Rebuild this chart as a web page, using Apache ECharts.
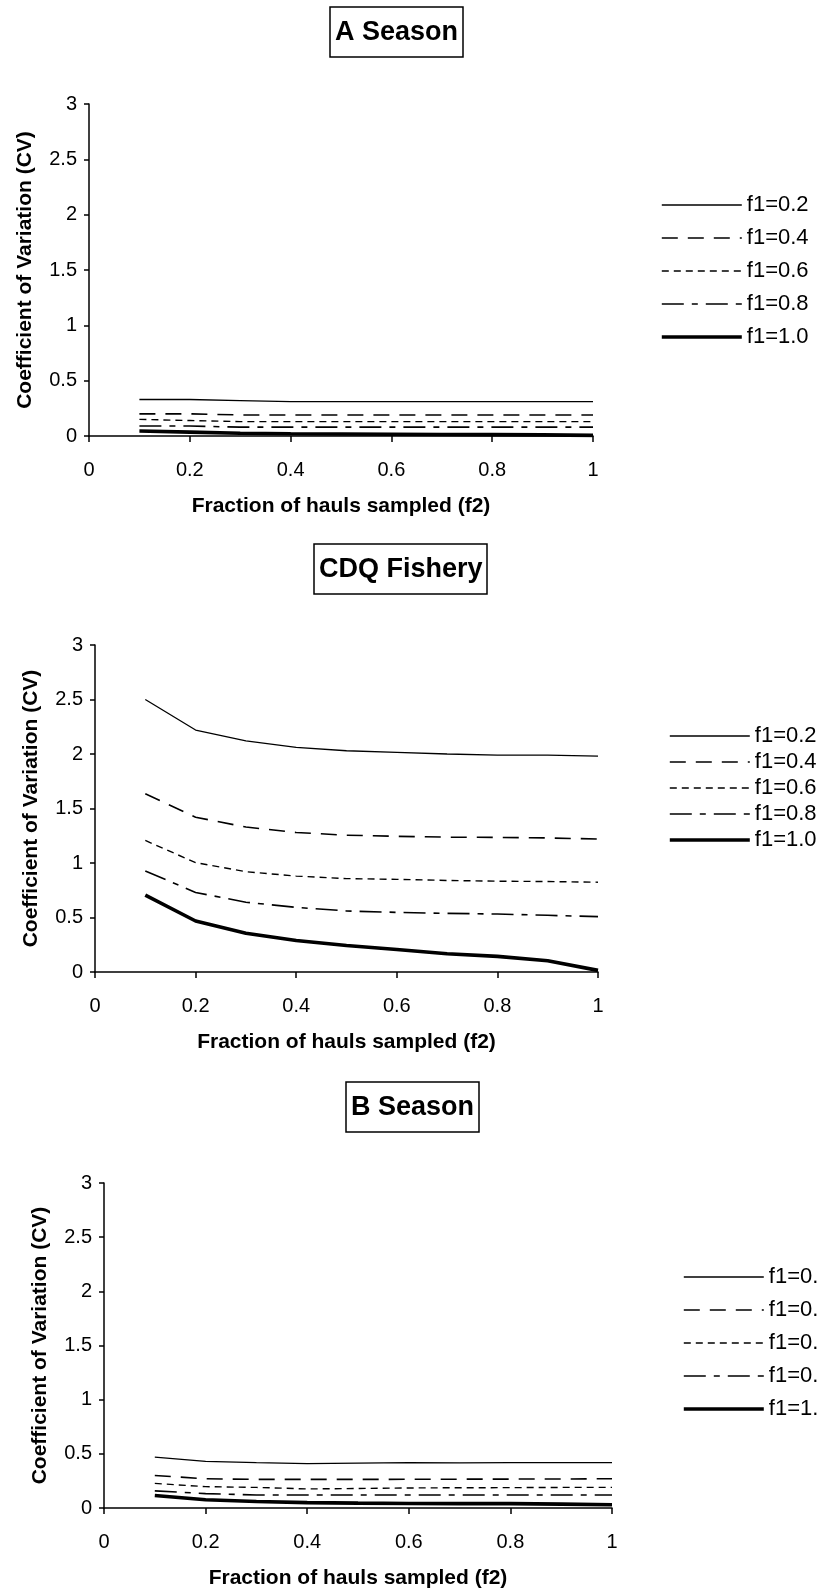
<!DOCTYPE html>
<html>
<head>
<meta charset="utf-8">
<script src="https://cdn.jsdelivr.net/npm/echarts@6/dist/echarts.min.js"></script>
<style>
  html, body { margin: 0; padding: 0; background: #fff; }
  #chart { width: 817px; height: 1590px; }
</style>
</head>
<body>
<div id="chart"></div>
<script>
// ---- data ----
const f2 = [0.1, 0.2, 0.3, 0.4, 0.5, 0.6, 0.7, 0.8, 0.9, 1.0];
const seriesNames = ['f1=0.2', 'f1=0.4', 'f1=0.6', 'f1=0.8', 'f1=1.0'];
const panelTitles = ['A Season', 'CDQ Fishery', 'B Season'];
const xAxisTitle = 'Fraction of hauls sampled (f2)';
const yAxisTitle = 'Coefficient of Variation (CV)';

// A Season
const aF02 = [0.33, 0.33, 0.32, 0.31, 0.31, 0.31, 0.31, 0.31, 0.31, 0.31];
const aF04 = [0.20, 0.20, 0.19, 0.19, 0.19, 0.19, 0.19, 0.19, 0.19, 0.19];
const aF06 = [0.15, 0.14, 0.13, 0.13, 0.13, 0.13, 0.13, 0.13, 0.13, 0.13];
const aF08 = [0.09, 0.09, 0.08, 0.08, 0.08, 0.08, 0.08, 0.08, 0.08, 0.08];
const aF10 = [0.045, 0.035, 0.025, 0.02, 0.018, 0.016, 0.014, 0.012, 0.01, 0.006];

// CDQ Fishery
const cF02 = [2.50, 2.22, 2.12, 2.06, 2.03, 2.015, 2.00, 1.99, 1.99, 1.98];
const cF04 = [1.635, 1.42, 1.33, 1.28, 1.255, 1.245, 1.237, 1.235, 1.23, 1.22];
const cF06 = [1.207, 1.003, 0.92, 0.88, 0.857, 0.85, 0.84, 0.833, 0.83, 0.824];
const cF08 = [0.927, 0.73, 0.64, 0.593, 0.56, 0.547, 0.538, 0.532, 0.52, 0.508];
const cF10 = [0.705, 0.468, 0.356, 0.289, 0.243, 0.207, 0.167, 0.143, 0.103, 0.015];

// B Season
const bF02 = [0.47, 0.43, 0.418, 0.41, 0.415, 0.418, 0.416, 0.418, 0.418, 0.418];
const bF04 = [0.30, 0.27, 0.264, 0.264, 0.264, 0.265, 0.266, 0.267, 0.268, 0.27];
const bF06 = [0.227, 0.197, 0.19, 0.176, 0.18, 0.185, 0.187, 0.188, 0.19, 0.19];
const bF08 = [0.158, 0.133, 0.12, 0.12, 0.12, 0.12, 0.12, 0.12, 0.12, 0.12];
const bF10 = [0.115, 0.076, 0.06, 0.05, 0.045, 0.042, 0.04, 0.04, 0.036, 0.03];

const panelData = [
  [aF02, aF04, aF06, aF08, aF10],
  [cF02, cF04, cF06, cF08, cF10],
  [bF02, bF04, bF06, bF08, bF10]
];

// ---- layout / style ----
const FONT = "'Liberation Sans', Arial, sans-serif";
const grids = [
  { left: 89, top: 104, width: 504, height: 332 },
  { left: 95, top: 645, width: 503, height: 327 },
  { left: 104, top: 1183, width: 508, height: 332 }
];
const titlePos = [
  { left: 330, top: 7 },
  { left: 314, top: 544 },
  { left: 346, top: 1082 }
];
const legendPos = [
  { left: 660, top: 194, gap: 11 },
  { left: 668, top: 725, gap: 4 },
  { left: 682, top: 1266, gap: 11 }
];
const lineStyles = [
  { width: 1.3, type: 'solid' },
  { width: 1.6, type: [16, 10] },
  { width: 1.4, type: [7, 5] },
  { width: 1.6, type: [22, 8, 6, 8] },
  { width: 3.6, type: 'solid' }
];

const option = {
  backgroundColor: '#fff',
  animation: false,
  title: panelTitles.map((t, i) => ({
    text: t,
    left: titlePos[i].left,
    top: titlePos[i].top,
    borderColor: '#000',
    borderWidth: 1.5,
    padding: [11, 5, 9, 5],
    textStyle: { fontFamily: FONT, fontSize: 27, fontWeight: 'bold', color: '#000', lineHeight: 30 }
  })),
  grid: grids.map(g => Object.assign({}, g)),
  xAxis: grids.map((g, i) => ({
    type: 'value', gridIndex: i, min: 0, max: 1, interval: 0.2,
    name: xAxisTitle, nameLocation: 'middle', nameGap: 60,
    nameTextStyle: { fontFamily: FONT, fontSize: 21, fontWeight: 'bold', color: '#000' },
    axisLine: { show: true, onZero: false, lineStyle: { color: '#000', width: 1.5 } },
    axisTick: { show: true, inside: false, length: 6, lineStyle: { color: '#000', width: 1.5 } },
    axisLabel: { fontFamily: FONT, fontSize: 20, color: '#000', margin: 24 },
    splitLine: { show: false }
  })),
  yAxis: grids.map((g, i) => ({
    type: 'value', gridIndex: i, min: 0, max: 3, interval: 0.5,
    name: yAxisTitle, nameLocation: 'middle', nameGap: 53, nameRotate: 90,
    nameTextStyle: { fontFamily: FONT, fontSize: 21, fontWeight: 'bold', color: '#000' },
    axisLine: { show: true, lineStyle: { color: '#000', width: 1.5 } },
    axisTick: { show: true, inside: false, length: 5, lineStyle: { color: '#000', width: 1.5 } },
    axisLabel: { fontFamily: FONT, fontSize: 20, color: '#000', margin: 12 },
    splitLine: { show: false }
  })),
  legend: legendPos.map((p, i) => ({
    orient: 'vertical',
    left: p.left, top: p.top,
    itemWidth: 80, itemHeight: 14, itemGap: p.gap,
    padding: 0,
    selectedMode: false,
    data: seriesNames,
    itemStyle: { color: 'rgba(0,0,0,0)', borderColor: 'rgba(0,0,0,0)', borderWidth: 0, opacity: 0 },
    lineStyle: { width: 'inherit', type: 'inherit', color: '#000' },
    textStyle: { fontFamily: FONT, fontSize: 22, color: '#000', lineHeight: 22 }
  })),
  series: []
};

panelData.forEach((panel, pi) => {
  panel.forEach((vals, si) => {
    option.series.push({
      type: 'line',
      name: seriesNames[si],
      xAxisIndex: pi, yAxisIndex: pi,
      symbol: 'none',
      smooth: false,
      data: f2.map((x, k) => [x, vals[k]]),
      lineStyle: { color: '#000', width: lineStyles[si].width, type: lineStyles[si].type },
      itemStyle: { color: '#000' }
    });
  });
});

const chart = echarts.init(document.getElementById('chart'), null, { renderer: 'canvas' });
chart.setOption(option);
</script>
</body>
</html>
